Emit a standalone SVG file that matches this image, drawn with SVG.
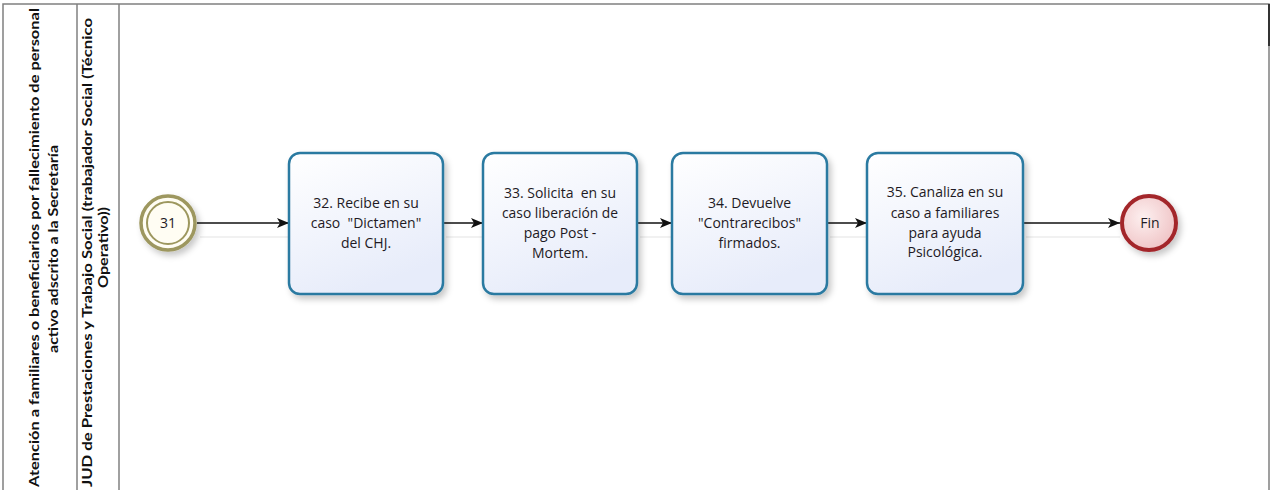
<svg xmlns="http://www.w3.org/2000/svg" width="1276" height="490" viewBox="0 0 1276 490">
  <style>
    .frame { fill: none; stroke: #808080; stroke-width: 1.5; }
    .hdr { font-family: Lato, "Open Sans", "Liberation Sans", sans-serif; font-weight: bold; font-size: 13px; fill: #111; }
    .task rect { fill: url(#taskFill); stroke: #2c7aa1; stroke-width: 2.5; }
    .task text, .ev text { font-family: "Open Sans", "Noto Sans", "Liberation Sans", sans-serif; font-size: 14px; fill: #1e1a24; text-anchor: middle; }
    .flow { stroke: #111; stroke-width: 1.3; fill: none; marker-end: url(#arrow); }
    .flowShadow { stroke: #ececec; stroke-width: 1.5; fill: none; }
  </style>
  <defs>
    <linearGradient id="taskFill" x1="0" y1="0" x2="0.4" y2="1">
      <stop offset="0" stop-color="#ffffff"/>
      <stop offset="1" stop-color="#e7ecfa"/>
    </linearGradient>
    <radialGradient id="endFill" cx="0.4" cy="0.4" r="0.7">
      <stop offset="0" stop-color="#fdf0f0"/>
      <stop offset="1" stop-color="#eebfc1"/>
    </radialGradient>
    <filter id="shadow" x="-20%" y="-20%" width="150%" height="150%">
      <feDropShadow dx="3" dy="4" stdDeviation="3" flood-color="#000" flood-opacity="0.22"/>
    </filter>
    <marker id="arrow" viewBox="0 0 12 10" refX="12" refY="5" markerWidth="12" markerHeight="10" markerUnits="userSpaceOnUse" orient="auto">
      <path d="M0,0 L12,5 L0,10 L3,5 Z" fill="#111"/>
    </marker>
  </defs>

  <!-- pool / lane frame -->
  <g id="frame">
    <path class="frame" d="M3,495 V4 H1269 V495"/>
    <line class="frame" x1="77" y1="4" x2="77" y2="495"/>
    <line class="frame" x1="119" y1="4" x2="119" y2="495"/>
    <line x1="1269" y1="4" x2="1269" y2="46" stroke="#333" stroke-width="2"/>
  </g>

  <!-- pool title -->
  <g id="pool-label" class="hdr">
    <text transform="translate(39,247.5) rotate(-90)" text-anchor="middle" textLength="479" lengthAdjust="spacingAndGlyphs">Atención a familiares o beneficiarios por fallecimiento de personal</text>
    <text transform="translate(57.5,249) rotate(-90)" text-anchor="middle" textLength="208" lengthAdjust="spacingAndGlyphs">activo adscrito a la Secretaría</text>
  </g>

  <!-- lane title -->
  <g id="lane-label" class="hdr">
    <text transform="translate(92,252.5) rotate(-90)" text-anchor="middle" textLength="469" lengthAdjust="spacingAndGlyphs">JUD de Prestaciones y Trabajo Social (trabajador Social (Técnico</text>
    <text transform="translate(107.5,247.5) rotate(-90)" text-anchor="middle" textLength="81" lengthAdjust="spacingAndGlyphs">Operativo))</text>
  </g>

  <!-- sequence flows -->
  <g id="connectors">
    <line class="flowShadow" x1="200" y1="237" x2="289" y2="237"/>
    <line class="flowShadow" x1="446" y1="237" x2="483" y2="237"/>
    <line class="flowShadow" x1="640" y1="237" x2="672" y2="237"/>
    <line class="flowShadow" x1="830" y1="237" x2="867" y2="237"/>
    <line class="flowShadow" x1="1026" y1="237" x2="1120" y2="237"/>
    <line class="flow" x1="197" y1="223" x2="289" y2="223"/>
    <line class="flow" x1="443" y1="223" x2="483" y2="223"/>
    <line class="flow" x1="637" y1="223" x2="672" y2="223"/>
    <line class="flow" x1="827" y1="223" x2="867" y2="223"/>
    <line class="flow" x1="1023" y1="223" x2="1120" y2="223"/>
  </g>

  <!-- start: link from 31 -->
  <g id="event-31" class="ev">
    <circle cx="168" cy="223" r="27" fill="#fffdf3" stroke="#9d975e" stroke-width="3.5" filter="url(#shadow)"/>
    <circle cx="168" cy="223" r="21" fill="#fffdf3" stroke="#9d975e" stroke-width="2"/>
    <text x="168" y="228">31</text>
  </g>

  <g id="task-32" class="task">
    <rect x="289" y="153" width="154" height="141" rx="11" filter="url(#shadow)"/>
    <text x="366" y="208">32. Recibe en su</text>
    <text x="366" y="228" xml:space="preserve">caso  "Dictamen"</text>
    <text x="366" y="248">del CHJ.</text>
  </g>

  <g id="task-33" class="task">
    <rect x="483" y="153" width="154" height="141" rx="11" filter="url(#shadow)"/>
    <text x="560" y="198" xml:space="preserve">33. Solicita  en su</text>
    <text x="560" y="218" textLength="116" lengthAdjust="spacingAndGlyphs">caso liberación de</text>
    <text x="560" y="238">pago Post -</text>
    <text x="560" y="258">Mortem.</text>
  </g>

  <g id="task-34" class="task">
    <rect x="672" y="153" width="155" height="141" rx="11" filter="url(#shadow)"/>
    <text x="749.5" y="208">34. Devuelve</text>
    <text x="749.5" y="228">"Contrarecibos"</text>
    <text x="749.5" y="248">firmados.</text>
  </g>

  <g id="task-35" class="task">
    <rect x="867" y="153" width="156" height="141" rx="11" filter="url(#shadow)"/>
    <text x="945" y="197">35. Canaliza en su</text>
    <text x="945" y="218">caso a familiares</text>
    <text x="945" y="238">para ayuda</text>
    <text x="945" y="257">Psicológica.</text>
  </g>

  <!-- end event -->
  <g id="event-fin" class="ev">
    <circle cx="1149" cy="223" r="27" fill="url(#endFill)" stroke="#a3262b" stroke-width="4" filter="url(#shadow)"/>
    <text x="1150" y="228">Fin</text>
  </g>
</svg>
